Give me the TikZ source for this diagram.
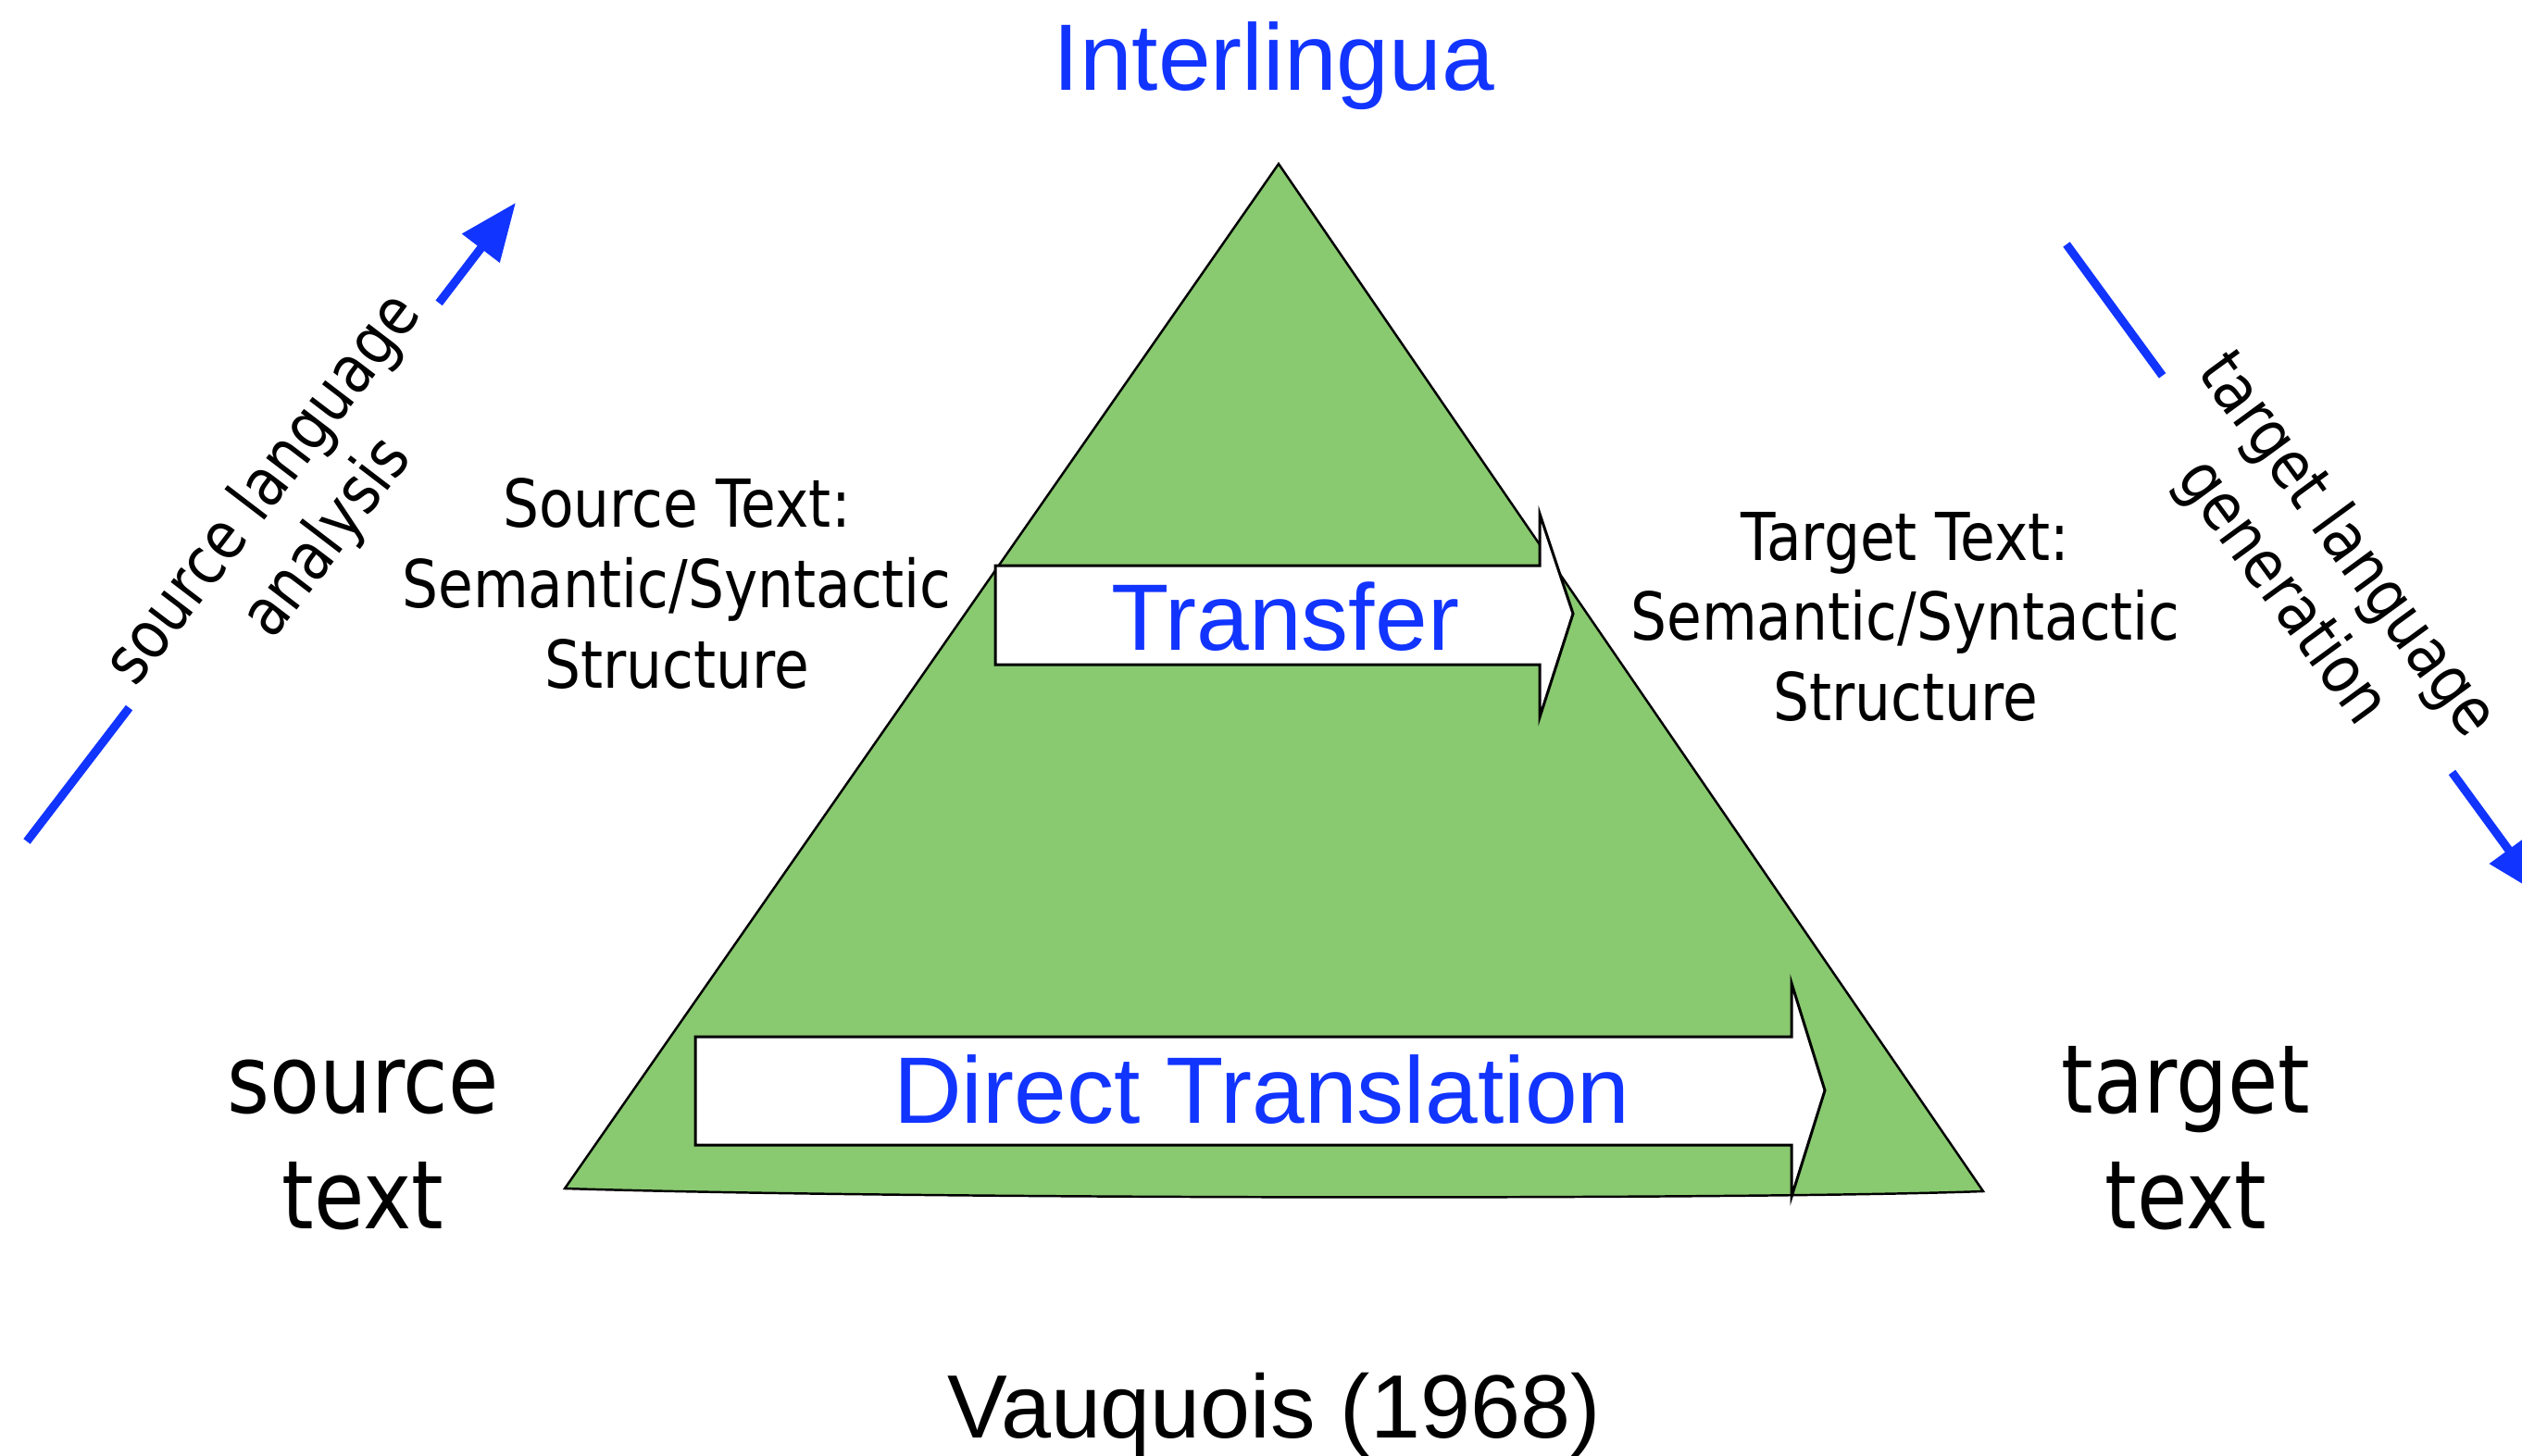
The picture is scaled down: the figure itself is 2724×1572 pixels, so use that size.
\documentclass[tikz,border=0pt]{standalone}
\usepackage{fontspec}
\usetikzlibrary{arrows.meta}
\newfontfamily\arialfont{Liberation Sans}
\newfontfamily\tahomafont[FakeStretch=0.86]{DejaVu Sans}
\definecolor{ilblue}{RGB}{18,52,255}
\definecolor{pyrgreen}{RGB}{137,201,112}

\begin{document}
\begin{tikzpicture}[x=0.01cm, y=-0.01cm,
  pyramid/.style={fill=pyrgreen, draw=black, line width=0.7pt, line join=miter},
  flowarrow/.style={fill=white, draw=black, line width=0.85pt, line join=miter},
  steplabel/.style={text=ilblue, font=\arialfont\fontsize{29}{35}\selectfont, inner sep=0pt, anchor=base},
  caption/.style={font=\arialfont\fontsize{27.6}{33}\selectfont, inner sep=0pt, anchor=base},
  struct/.style={font=\tahomafont\fontsize{20.3}{24.6}\selectfont, align=center, inner sep=0pt, anchor=base},
  endtext/.style={font=\tahomafont\fontsize{29.2}{35.3}\selectfont, align=center, inner sep=0pt, anchor=base},
  phase/.style={draw=ilblue, line width=2.6pt, -{Triangle[length=0.62cm, width=0.49cm]}},
  phaselabel/.style={fill=white, font=\tahomafont\fontsize{20.3}{24.6}\selectfont,
    align=center, inner xsep=0pt, inner ysep=2pt}
]
\useasboundingbox (0,0) rectangle (2724,1572);
\clip (0,0) rectangle (2724,1572);

% the pyramid
\coordinate (apex) at (1381,177);
\coordinate (bl) at (610,1284);
\coordinate (br) at (2142,1287);
\draw[pyramid] (bl) -- (apex) -- (br) .. controls (1900,1296) and (1000,1296) .. (bl) -- cycle;

% transfer level arrow
\draw[flowarrow] (1075,611) -- (1663,611) -- (1663,555) -- (1699,663) -- (1663,775)
  -- (1663,718) -- (1075,718) -- cycle;
\node[steplabel] (transfer) at (1388,702) {Transfer};

% direct translation arrow
\draw[flowarrow] (751,1120) -- (1935,1120) -- (1935,1062) -- (1971,1178) -- (1935,1293)
  -- (1935,1237) -- (751,1237) -- cycle;
\node[steplabel] (direct) at (1363,1213) {Direct Translation};

% top label
\node[steplabel] (interlingua) at (1376,97) {Interlingua};

% analysis and generation phases; the labels sit on the arrows and mask them
\coordinate (ana-start) at (29,909);
\coordinate (ana-end) at (557,219);
\draw[phase] (ana-start) -- (ana-end);
\node[phaselabel, rotate=52.6, minimum width=5.5cm] (analysis) at (320,556)
  {source language\\analysis};

\coordinate (gen-start) at (2232,264);
\coordinate (gen-end) at (2746,968);
\draw[phase] (gen-start) -- (gen-end);
\node[phaselabel, rotate=-53.8, minimum width=5.3cm] (generation) at (2499,615)
  {target language\\generation};

% structure descriptions
\node[struct] (srcstruct) at (731,743) {Source Text:\\Semantic/Syntactic\\Structure};
\node[struct] (tgtstruct) at (2058,778) {Target Text:\\Semantic/Syntactic\\Structure};

% source and target texts
\node[endtext] (srctext) at (392,1327) {source\\text};
\node[endtext] (tgttext) at (2361,1327) {target\\text};

% citation
\node[caption] (cite) at (1376,1553) {Vauquois (1968)};
\end{tikzpicture}
\end{document}
